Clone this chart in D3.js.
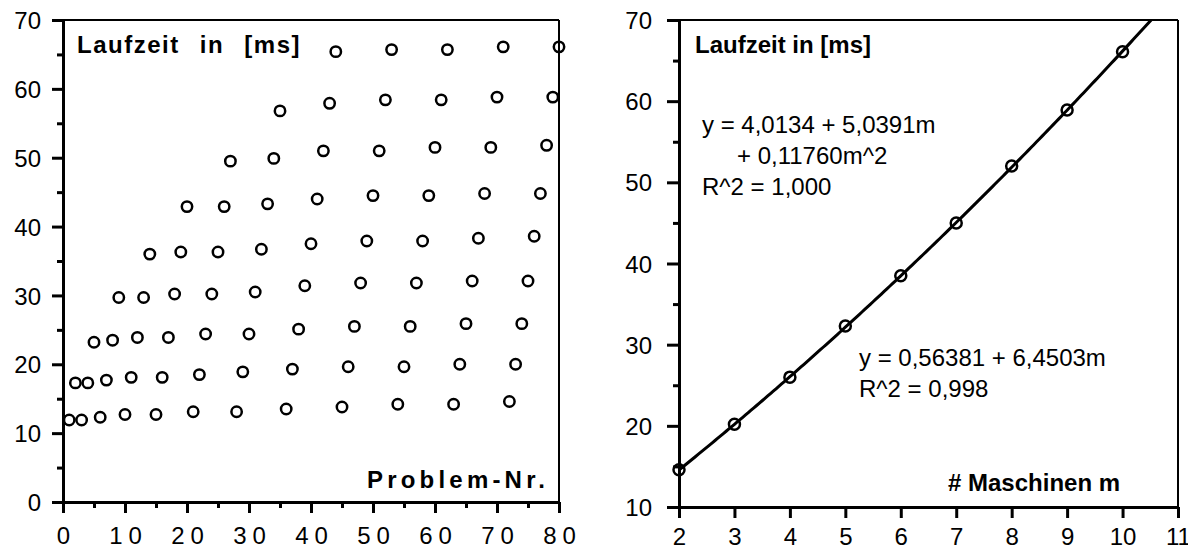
<!DOCTYPE html>
<html>
<head>
<meta charset="utf-8">
<script src="https://cdn.jsdelivr.net/npm/d3@7"></script>
<style>
  html, body { margin: 0; padding: 0; background: #fff; }
  svg { display: block; }
  text { font-family: "Liberation Sans", Arial, Helvetica, sans-serif; fill: #000; }
</style>
</head>
<body>
<svg id="chart" width="1188" height="550"></svg>
<script>
// ---------- Data: left chart (Laufzeit per Problem-Nr.) ----------
const problemNr = [
  1, 2, 3, 4, 5, 6, 7, 8, 9, 10,
  11, 12, 13, 14, 15, 16, 17, 18, 19, 20,
  21, 22, 23, 24, 25, 26, 27, 28, 29, 30,
  31, 32, 33, 34, 35, 36, 37, 38, 39, 40,
  41, 42, 43, 44, 45, 46, 47, 48, 49, 50,
  51, 52, 53, 54, 55, 56, 57, 58, 59, 60,
  61, 62, 63, 64, 65, 66, 67, 68, 69, 70,
  71, 72, 73, 74, 75, 76, 77, 78, 79, 80
];
const laufzeitMs = [
  11.9, 17.3, 11.9, 17.3, 23.2, 12.3, 17.7, 23.5, 29.7, 12.7,
  18.1, 23.9, 29.7, 36.0, 12.7, 18.1, 23.9, 30.2, 36.3, 42.9,
  13.1, 18.5, 24.4, 30.2, 36.3, 42.9, 49.5, 13.1, 18.9, 24.4,
  30.5, 36.7, 43.3, 49.9, 56.8, 13.5, 19.3, 25.1, 31.4, 37.5,
  44.0, 51.0, 57.9, 65.4, 13.8, 19.65, 25.5, 31.8, 37.9, 44.5,
  51.0, 58.4, 65.7, 14.2, 19.65, 25.5, 31.8, 37.9, 44.5, 51.5,
  58.4, 65.7, 14.2, 20.0, 25.9, 32.1, 38.3, 44.8, 51.5, 58.8,
  66.1, 14.6, 20.0, 25.9, 32.1, 38.6, 44.8, 51.8, 58.8, 66.1
];
const leftXTicks = [0, 10, 20, 30, 40, 50, 60, 70, 80];
const leftXMinor = [5, 15, 25, 35, 45, 55, 65, 75];
const leftYTicks = [0, 10, 20, 30, 40, 50, 60, 70];
const leftYMinor = [5, 15, 25, 35, 45, 55, 65];

// ---------- Data: right chart (Laufzeit per # Maschinen) ----------
const maschinen = [2, 3, 4, 5, 6, 7, 8, 9, 10];
const laufzeitM = [14.6, 20.2, 26.0, 32.3, 38.5, 45.0, 52.0, 58.9, 66.1];
const quadFit = [4.0134, 5.0391, 0.11760];   // y = a + b m + c m^2 (from the chart text)
const rightXTicks = [2, 3, 4, 5, 6, 7, 8, 9, 10, 11];
const rightYTicks = [10, 20, 30, 40, 50, 60, 70];
const rightYMinor = [15, 25, 35, 45, 55, 65];

const eqQuad = ["y = 4,0134 + 5,0391m", "+ 0,11760m^2", "R^2 = 1,000"];
const eqLin = ["y = 0,56381 + 6,4503m", "R^2 = 0,998"];

const svg = d3.select("#chart");

// ================= LEFT CHART =================
const L = { left: 63, right: 559, top: 20, bottom: 502 };
const xL = d3.scaleLinear().domain([0, 80]).range([L.left, L.right]);
const yL = d3.scaleLinear().domain([0, 70]).range([L.bottom, L.top]);

const gL = svg.append("g");

// frame (top / right thin)
gL.append("line").attr("x1", L.left).attr("x2", L.right).attr("y1", L.top).attr("y2", L.top)
  .attr("stroke", "#000").attr("stroke-width", 2);
gL.append("line").attr("x1", L.right).attr("x2", L.right).attr("y1", L.top).attr("y2", L.bottom)
  .attr("stroke", "#000").attr("stroke-width", 2);

function styleAxis(g, w) {
  g.select(".domain").attr("stroke", "#000").attr("stroke-width", w);
  g.selectAll(".tick line").attr("stroke", "#000").attr("stroke-width", 3);
}

// y axis left
const yAxL = gL.append("g").attr("transform", `translate(${L.left},0)`)
  .call(d3.axisLeft(yL).tickValues(leftYTicks).tickSize(11).tickSizeOuter(0).tickPadding(11)
    .tickFormat(d3.format("d")));
styleAxis(yAxL, 3);
yAxL.selectAll(".tick text").attr("font-size", 24).attr("dy", "0.36em")
  .style("font-family", "'Liberation Sans', Arial, sans-serif");
gL.append("g").attr("transform", `translate(${L.left},0)`)
  .call(d3.axisLeft(yL).tickValues(leftYMinor).tickSize(6).tickFormat(""))
  .call(g => { g.select(".domain").remove(); g.selectAll("line").attr("stroke", "#000").attr("stroke-width", 3); });

// x axis left
const xAxL = gL.append("g").attr("transform", `translate(0,${L.bottom})`)
  .call(d3.axisBottom(xL).tickValues(leftXTicks).tickSize(11).tickSizeOuter(0).tickPadding(14)
    .tickFormat(d3.format("d")));
styleAxis(xAxL, 3);
xAxL.selectAll(".tick text").attr("font-size", 24).attr("dy", "0.71em")
  .style("letter-spacing", "6px").attr("dx", "3px")
  .style("font-family", "'Liberation Sans', Arial, sans-serif");
gL.append("g").attr("transform", `translate(0,${L.bottom})`)
  .call(d3.axisBottom(xL).tickValues(leftXMinor).tickSize(6).tickFormat(""))
  .call(g => { g.select(".domain").remove(); g.selectAll("line").attr("stroke", "#000").attr("stroke-width", 3); });

// points
gL.append("g").selectAll("circle")
  .data(problemNr.map((p, i) => ({ p, v: laufzeitMs[i] })))
  .join("circle")
  .attr("cx", d => xL(d.p)).attr("cy", d => yL(d.v)).attr("r", 5.2)
  .attr("fill", "none").attr("stroke", "#000").attr("stroke-width", 2.5);

// texts
gL.append("text").attr("x", 77).attr("y", 53)
  .attr("font-size", 24).attr("font-weight", "bold")
  .style("letter-spacing", "1.5px").style("word-spacing", "12px")
  .text("Laufzeit in [ms]");
gL.append("text").attr("x", 367).attr("y", 488)
  .attr("font-size", 24).attr("font-weight", "bold")
  .style("letter-spacing", "4.2px")
  .text("Problem-Nr.");

// ================= RIGHT CHART =================
const R = { left: 679, right: 1178, top: 20, bottom: 507 };
const xR = d3.scaleLinear().domain([2, 11]).range([R.left, R.right]);
const yR = d3.scaleLinear().domain([10, 70]).range([R.bottom, R.top]);

const gR = svg.append("g");

gR.append("line").attr("x1", R.left).attr("x2", R.right).attr("y1", R.top).attr("y2", R.top)
  .attr("stroke", "#000").attr("stroke-width", 2);
gR.append("line").attr("x1", R.right).attr("x2", R.right).attr("y1", R.top).attr("y2", R.bottom)
  .attr("stroke", "#000").attr("stroke-width", 2);

const yAxR = gR.append("g").attr("transform", `translate(${R.left},0)`)
  .call(d3.axisLeft(yR).tickValues(rightYTicks).tickSize(12).tickSizeOuter(0).tickPadding(15)
    .tickFormat(d3.format("d")));
styleAxis(yAxR, 3);
yAxR.selectAll(".tick text").attr("font-size", 24).attr("dy", "0.36em")
  .style("font-family", "'Liberation Sans', Arial, sans-serif");
gR.append("g").attr("transform", `translate(${R.left},0)`)
  .call(d3.axisLeft(yR).tickValues(rightYMinor).tickSize(6).tickFormat(""))
  .call(g => { g.select(".domain").remove(); g.selectAll("line").attr("stroke", "#000").attr("stroke-width", 3); });

const xAxR = gR.append("g").attr("transform", `translate(0,${R.bottom})`)
  .call(d3.axisBottom(xR).tickValues(rightXTicks).tickSize(11).tickSizeOuter(0).tickPadding(10)
    .tickFormat(d3.format("d")));
styleAxis(xAxR, 3);
xAxR.selectAll(".tick text").attr("font-size", 24).attr("dy", "0.71em")
  .style("font-family", "'Liberation Sans', Arial, sans-serif");

// fit curve (clipped to plot area)
svg.append("defs").append("clipPath").attr("id", "clipR")
  .append("rect").attr("x", R.left).attr("y", R.top)
  .attr("width", R.right - R.left).attr("height", R.bottom - R.top);
const fitM = d3.range(maschinen[0], 11.0001, 0.05);
const fitLine = d3.line()
  .x(m => xR(m))
  .y(m => yR(quadFit[0] + quadFit[1] * m + quadFit[2] * m * m));
gR.append("path").datum(fitM).attr("d", fitLine)
  .attr("clip-path", "url(#clipR)")
  .attr("fill", "none").attr("stroke", "#000").attr("stroke-width", 3);

gR.append("g").selectAll("circle")
  .data(maschinen.map((m, i) => ({ m, v: laufzeitM[i] })))
  .join("circle")
  .attr("cx", d => xR(d.m)).attr("cy", d => yR(d.v)).attr("r", 5.5)
  .attr("fill", "none").attr("stroke", "#000").attr("stroke-width", 2.5);

// texts
gR.append("text").attr("x", 695).attr("y", 53)
  .attr("font-size", 24).attr("font-weight", "bold")
  .text("Laufzeit in [ms]");
gR.append("text").attr("x", 948).attr("y", 491)
  .attr("font-size", 24).attr("font-weight", "bold")
  .text("# Maschinen m");

const eqQX = [702, 737, 702];
const eqQY = [133, 164, 195];
gR.append("g").selectAll("text").data(eqQuad).join("text")
  .attr("x", (d, i) => eqQX[i]).attr("y", (d, i) => eqQY[i])
  .attr("font-size", 24).text(d => d);

const eqLY = [366, 397];
gR.append("g").selectAll("text").data(eqLin).join("text")
  .attr("x", 859).attr("y", (d, i) => eqLY[i])
  .attr("font-size", 24).text(d => d);
</script>
</body>
</html>
